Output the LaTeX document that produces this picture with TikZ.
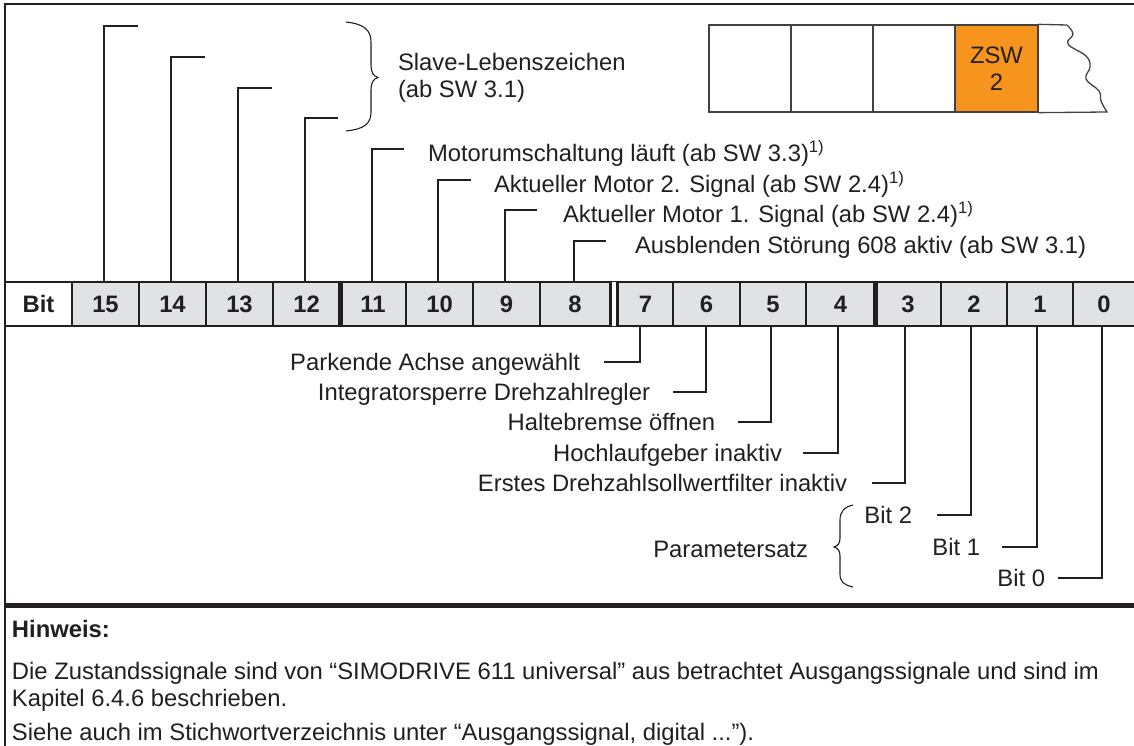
\documentclass[tikz,border=0pt]{standalone}
\usepackage{fontspec}
\setmainfont{Liberation Sans}
\usetikzlibrary{calc}
\definecolor{ink}{RGB}{35,31,32}
\definecolor{cellgray}{RGB}{225,226,228}
\definecolor{zorange}{RGB}{246,148,30}
\newcommand{\fs}{\fontsize{23.8}{27}\selectfont}
\tikzset{
  txt/.style={inner sep=0pt, outer sep=0pt, text=ink, font=\fs},
  bitcell/.style={draw=ink, line width=1.2pt, fill=cellgray, minimum height=44pt,
    inner sep=0pt, text=ink, font=\fs\bfseries},
  conn/.style={draw=ink, line width=2pt},
  frameline/.style={draw=ink, line width=1.8pt},
  sepline/.style={draw=ink, line width=5pt},
  dblline/.style={draw=ink, line width=3.6pt},
  wordbox/.style={draw=ink!85, line width=1.3pt, minimum height=87pt, inner sep=0pt,
    text=ink, font=\fs, align=center},
  brace/.style={draw=ink, line width=1.1pt}
}
\begin{document}
\begin{tikzpicture}[x=1pt,y=-1pt]
\useasboundingbox (0,0) rectangle (1134,746);
\fill[white] (0,0) rectangle (1134,746);

% frame
\draw[frameline] (5,750) -- (5,4) -- (1140,4);
\draw[line width=5pt, draw=ink] (4,605) -- (1140,605);

% word boxes
\node[wordbox, minimum width=82pt] (b1) at (750,68.5) {};
\node[wordbox, minimum width=82pt] (b2) at (832,68.5) {};
\node[wordbox, minimum width=82pt] (b3) at (914,68.5) {};
\node[wordbox, minimum width=83pt, fill=zorange] (b4) at (996.5,68.5) {ZSW\\2};
\draw[draw=ink!85, line width=1.3pt] (b4.north east) -- (1067,25)
  plot[smooth, tension=0.7] coordinates {(1067,25) (1073,34) (1068,44) (1086,56) (1090,67) (1086,79) (1099,91) (1101,101) (1107,112)}
  -- (b4.south east);

% bit table
\node[bitcell, fill=white, minimum width=67pt] (cbit) at (38.5,304) {Bit};
\foreach \n/\l/\r in {15/72/139,14/139/206,13/206/273,12/273/340,11/340/406,10/406/473,9/473/540,8/540/610,7/618/673,6/673/740,5/740/806,4/806/875,3/875/941,2/941/1007,1/1007/1073,0/1073/1135}
  \node[bitcell, minimum width={(\r-\l)*1pt}] (c\n) at ({(\l+\r)/2},304) {\n};
\draw[draw=ink, line width=1.2pt] (c8.north east) -- (c7.north west);
\draw[draw=ink, line width=1.2pt] (c8.south east) -- (c7.south west);
\draw[sepline] (c12.north east) -- (c12.south east);
\draw[sepline] (c4.north east) -- (c4.south east);
\draw[dblline] (c8.north east) -- (c8.south east);
\draw[dblline] (c7.north west) -- (c7.south west);

% upper connectors
\foreach \n/\y/\xe in {15/26/138,14/57/205,13/88/272,12/118/338,11/149/404,10/180/471,9/210/537,8/241/606}
  {\coordinate (e\n) at (\xe,\y);
   \draw[conn] ([xshift=-1.5pt]c\n.north) |- (e\n);}

\draw[brace] (346,22) .. controls (364,24) and (371,30) .. (371,42) -- (371,65)
  .. controls (371,72) and (373,76) .. (378,77.5) .. controls (373,79) and (371,83) .. (371,90)
  -- (371,112) .. controls (371,124) and (364,129) .. (346,131);
\node[txt, anchor=base west, align=left] (tslave) at (398,98) {Slave-Lebenszeichen\\(ab SW 3.1)};

\node[txt, anchor=base west] (t11) at (428,161.5) {Motorumschaltung läuft (ab SW 3.3)\textsuperscript{1)}};
\node[txt, anchor=base west] (t10) at (494,192.5) {Aktueller Motor 2. Signal (ab SW 2.4)\textsuperscript{1)}};
\node[txt, anchor=base west] (t9) at (563,222.5) {Aktueller Motor 1. Signal (ab SW 2.4)\textsuperscript{1)}};
\node[txt, anchor=base west] (t8) at (635,253.5) {Ausblenden Störung 608 aktiv (ab SW 3.1)};

% lower connectors
\foreach \n/\dx/\y/\xe in {7/-5.5/362/604,6/-0.5/392/673,5/-2/422/738,4/-3/453/803,3/-3/483/872,2/-3/515/937,1/-3/547/1002,0/-2/578/1058}
  {\coordinate (f\n) at (\xe,\y);
   \draw[conn] ([xshift=\dx pt]c\n.south) |- (f\n);}

\node[txt, anchor=base east] (t7) at (580,370.5) {Parkende Achse angewählt};
\node[txt, anchor=base east] (t6) at (650,400.5) {Integratorsperre Drehzahlregler};
\node[txt, anchor=base east] (t5) at (715,430.5) {Haltebremse öffnen};
\node[txt, anchor=base east] (t4) at (782,461.5) {Hochlaufgeber inaktiv};
\node[txt, anchor=base east] (t3) at (847,491.5) {Erstes Drehzahlsollwertfilter inaktiv};
\node[txt, anchor=base east] (t2) at (912,523.5) {Bit 2};
\node[txt, anchor=base east] (t1) at (980,555.5) {Bit 1};
\node[txt, anchor=base east] (t0) at (1045,586.5) {Bit 0};
\node[txt, anchor=base east] (tpar) at (808,557.5) {Parametersatz};
\draw[brace] (853,505) .. controls (844,507) and (840,512) .. (840,520) -- (840,538)
  .. controls (840,543) and (838,546) .. (834,547) .. controls (838,548) and (840,551) .. (840,556)
  -- (840,574) .. controls (840,582) and (844,585) .. (853,587);

% note
\node[txt, font=\fs\bfseries, anchor=base west] (hin) at (12,637.5) {Hinweis:};
\node[txt, anchor=base west, align=left] (note1) at (12,706) {Die Zustandssignale sind von “SIMODRIVE 611 universal” aus betrachtet Ausgangssignale und sind im\\Kapitel 6.4.6 beschrieben.};
\node[txt, anchor=base west] (note2) at (12,740.5) {Siehe auch im Stichwortverzeichnis unter “Ausgangssignal, digital ...”).};
\end{tikzpicture}
\end{document}
